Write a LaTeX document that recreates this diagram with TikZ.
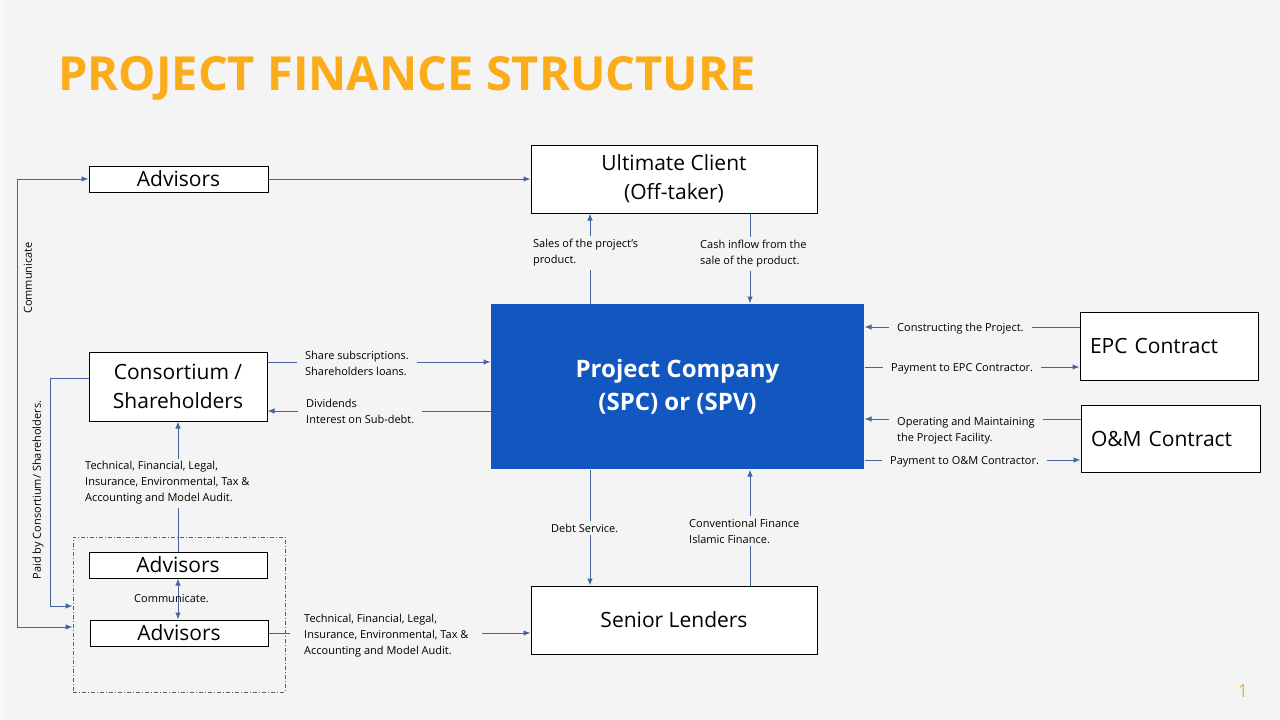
\documentclass[tikz,border=0pt]{standalone}
\usepackage{fontspec}
\setmainfont{Open Sans}
\usetikzlibrary{arrows.meta,calc}
\definecolor{bg}{RGB}{244,244,244}
\definecolor{ttl}{RGB}{251,172,24}
\definecolor{pgc}{RGB}{235,180,70}
\definecolor{spvblue}{RGB}{18,87,192}
\definecolor{ln}{RGB}{70,100,155}
\definecolor{dashc}{RGB}{90,95,110}
\begin{document}
\begin{tikzpicture}[x=1pt,y=-1pt,
  >={Latex[length=7pt,width=5.5pt]},
  box/.style={draw=black, fill=white, line width=1pt, inner sep=0pt, align=center, font=\fontsize{21}{29}\selectfont},
  conn/.style={draw=ln, line width=1pt},
  lbl/.style={fill=bg, inner xsep=8pt, inner ysep=3pt, align=left, anchor=west, yshift=-2pt, font=\fontsize{11}{16}\selectfont},
  vlbl/.style={rotate=90, inner sep=0pt, font=\fontsize{11}{13}\selectfont}]
\useasboundingbox (0,0) rectangle (1280,720);
\fill[bg] (0,0) rectangle (1280,720);
\fill[white, opacity=0.4] (0,0) rectangle (4,720);

% title
\node[anchor=base west, text=ttl, font=\bfseries\fontsize{47}{50}\selectfont, inner sep=0pt] (title) at (58,90) {PROJECT FINANCE STRUCTURE};
\node[anchor=base, text=pgc, inner sep=0pt, font=\fontsize{18}{20}\selectfont] (pg) at (1243,697) {1};

% group box
\node[draw=dashc, line width=0.8pt, dash pattern=on 4pt off 2pt on 1pt off 2pt, minimum width=212pt, minimum height=155pt, inner sep=0pt] (grp) at (179,614.5) {};

% boxes
\node[box, minimum width=179pt, minimum height=26pt] (adv1) at (178.5,179) {Advisors};
\node[box, minimum width=286pt, minimum height=68pt] (client) at (674,179) {Ultimate Client\\(Off-taker)};
\node[box, fill=spvblue, draw=none, text=white, font=\bfseries\fontsize{24}{33}\selectfont, minimum width=373pt, minimum height=165pt] (spv) at (677.5,386.5) {Project Company\\(SPC) or (SPV)};
\node[box, minimum height=68pt, text width=158pt, inner xsep=10pt, align=left] (epc) at (1169,346) {EPC Contract};
\node[box, minimum height=67pt, text width=159pt, inner xsep=10pt, align=left] (om) at (1170.5,438.5) {O\&M Contract};
\node[box, minimum width=178pt, minimum height=69pt] (cons) at (178,386.5) {Consortium /\\Shareholders};
\node[box, minimum width=178pt, minimum height=26pt] (adv2) at (178,565) {Advisors};
\node[box, minimum width=178pt, minimum height=26pt] (adv3) at (179,633) {Advisors};
\node[box, minimum width=286pt, minimum height=68pt] (lend) at (674,620) {Senior Lenders};

% helper coordinates
\coordinate (xa) at (590,0);
\coordinate (xb) at (750,0);
\coordinate (ya) at (0,362);
\coordinate (yb) at (0,411);
\coordinate (yc) at (0,327);
\coordinate (yd) at (0,367);
\coordinate (ye) at (0,419);
\coordinate (yf) at (0,460);
\coordinate (c1) at (17,627);
\coordinate (c2) at (50,606);

% connectors
\draw[conn,<->] (adv1.west) -| (c1) -- (c1 -| grp.west);
\draw[conn,->] ([yshift=8pt]cons.west) -| (c2) -- (c2 -| grp.west);
\draw[conn,->] (adv1.east) -- (adv1.east -| client.west);
\draw[conn,->] (spv.north -| xa) -- (client.south -| xa);
\draw[conn,->] (client.south -| xb) -- (spv.north -| xb);
\draw[conn,->] (cons.east |- ya) -- (spv.west |- ya);
\draw[conn,->] (spv.west |- yb) -- (cons.east |- yb);
\draw[conn,->] (adv2.north) -- (cons.south);
\draw[conn,<->] (adv2.south) -- (adv3.north -| adv2.south);
\draw[conn,->] (adv3.east) -- (adv3.east -| lend.west);
\draw[conn,->] (spv.south -| xa) -- (lend.north -| xa);
\draw[conn,->] (lend.north -| xb) -- (spv.south -| xb);
\draw[conn,->] (epc.west |- yc) -- (spv.east |- yc);
\draw[conn,->] (spv.east |- yd) -- (epc.west |- yd);
\draw[conn,->] (om.west |- ye) -- (spv.east |- ye);
\draw[conn,->] (spv.east |- yf) -- (om.west |- yf);

% labels
\node[lbl] (l1) at (525,251) {Sales of the project's\\product.};
\node[lbl] (l2) at (692,252) {Cash inflow from the\\sale of the product.};
\node[lbl] (l3) at (297,361) {Share subscriptions.\\Shareholders loans.};
\node[lbl] (l4) at (298,409) {Dividends\\Interest on Sub-debt.};
\node[lbl] (l5) at (77,481) {Technical, Financial, Legal,\\Insurance, Environmental, Tax \&\\Accounting and Model Audit.};
\node[anchor=west, inner sep=0pt, yshift=-2pt, font=\fontsize{11}{16}\selectfont] (l6) at (134,597) {Communicate.};
\node[lbl, inner xsep=14pt] (l7) at (290,634) {Technical, Financial, Legal,\\Insurance, Environmental, Tax \&\\Accounting and Model Audit.};
\node[lbl] (l8) at (543,526) {Debt Service.};
\node[lbl] (l9) at (681,529) {Conventional Finance\\Islamic Finance.};
\node[lbl] (l10) at (889,327) {Constructing the Project.};
\node[lbl] (l11) at (883,367) {Payment to EPC Contractor.};
\node[lbl] (l12) at (889,429) {Operating and Maintaining\\the Project Facility.};
\node[lbl] (l13) at (882,460) {Payment to O\&M Contractor.};
\node[vlbl] (l14) at (28,278) {Communicate};
\node[vlbl] (l15) at (38,490) {Paid by Consortium/ Shareholders.};
\end{tikzpicture}
\end{document}
